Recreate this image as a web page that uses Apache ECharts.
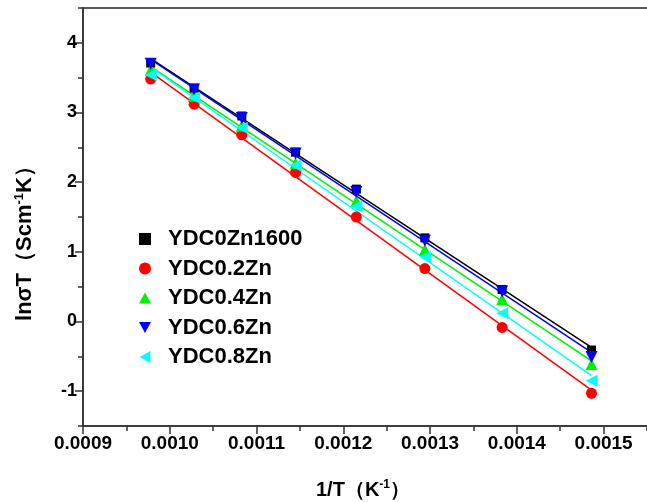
<!DOCTYPE html>
<html>
<head>
<meta charset="utf-8">
<script src="https://cdn.jsdelivr.net/npm/echarts@6/dist/echarts.min.js"></script>
<style>html,body{margin:0;padding:0;background:#fff}#c{width:647px;height:502px}</style>
</head>
<body>
<div id="c"></div>
<script>
// ---- data ----
const xValues = [0.000978, 0.001028, 0.001083, 0.001145, 0.001215, 0.001294, 0.001383, 0.001486];
const seriesNames = ['YDC0Zn1600', 'YDC0.2Zn', 'YDC0.4Zn', 'YDC0.6Zn', 'YDC0.8Zn'];
const ydc0Zn1600 = [3.71, 3.35, 2.95, 2.43, 1.90, 1.20, 0.46, -0.41];
const ydc02Zn    = [3.48, 3.12, 2.68, 2.14, 1.50, 0.76, -0.085, -1.03];
const ydc04Zn    = [3.61, 3.24, 2.81, 2.27, 1.73, 1.03, 0.32, -0.61];
const ydc06Zn    = [3.70, 3.33, 2.92, 2.41, 1.86, 1.16, 0.43, -0.51];
const ydc08Zn    = [3.54, 3.21, 2.78, 2.24, 1.65, 0.93, 0.12, -0.85];
const yTickLabels = [-1, 0, 1, 2, 3, 4];
const yMinorTicks = [-1.5, -0.5, 0.5, 1.5, 2.5, 3.5, 4.5];

// ---- styling ----
const FONT = '"Liberation Sans", Arial, sans-serif';
const colors = ['#000000', '#ff0000', '#00f000', '#0000ff', '#00ffff'];
const symbols = ['rect', 'circle', 'triangle', 'triangle', 'triangle'];
const rotations = [0, 0, 0, 180, 90];
const sizes = [9, 11, 12, 12, 12];
const legendIcons = ['rect', 'circle', 'path://M5,0 L10,9 L0,9 Z', 'path://M0,0 L10,0 L5,9 Z', 'path://M9,0 L9,10 L0,5 Z'];
const allY = [ydc0Zn1600, ydc02Zn, ydc04Zn, ydc06Zn, ydc08Zn];

function fit(xs, ys) {
  const n = xs.length;
  let sx = 0, sy = 0, sxx = 0, sxy = 0;
  for (let i = 0; i < n; i++) { sx += xs[i]; sy += ys[i]; sxx += xs[i] * xs[i]; sxy += xs[i] * ys[i]; }
  const b = (n * sxy - sx * sy) / (n * sxx - sx * sx);
  const a = (sy - b * sx) / n;
  return [[xs[0], a + b * xs[0]], [xs[n - 1], a + b * xs[n - 1]]];
}

const series = [];
allY.forEach((ys, i) => {
  series.push({
    type: 'line', data: fit(xValues, ys), showSymbol: false, symbol: 'none',
    lineStyle: { color: colors[i], width: 1.5 }, z: 2, silent: true
  });
});
allY.forEach((ys, i) => {
  series.push({
    name: seriesNames[i], type: 'scatter',
    data: xValues.map((x, j) => [x, ys[j]]),
    symbol: symbols[i], symbolRotate: rotations[i], symbolSize: sizes[i],
    itemStyle: { color: colors[i], opacity: 1 }, z: 3
  });
});

const chart = echarts.init(document.getElementById('c'), null, { renderer: 'canvas' });
const gridLeft = 83, gridRight = -43.4;
const gridWidth = 647 - gridLeft - gridRight;
chart.setOption({
  animation: false,
  backgroundColor: '#fff',
  grid: { left: gridLeft, right: gridRight, top: 8, bottom: 76, outerBoundsMode: 'none', containLabel: false,
    show: true, borderColor: '#222', borderWidth: 1.5, backgroundColor: 'transparent' },
  xAxis: [{
    type: 'value', min: 0.0009, max: 0.0016, interval: 0.0001,
    axisLine: { show: true, onZero: false, lineStyle: { color: '#333', width: 1.5 } },
    axisTick: { show: true, length: 8, lineStyle: { color: '#333', width: 1.5 } },
    minorTick: { show: true, splitNumber: 2, length: 5, lineStyle: { color: '#333', width: 1.5 } },
    axisLabel: { fontFamily: FONT, fontSize: 19, fontWeight: 'bold', color: '#000', margin: 8,
      formatter: v => v.toFixed(4), showMaxLabel: false },
    splitLine: { show: false }, minorSplitLine: { show: false }
  }],
  yAxis: [{
    type: 'value', min: -1.5, max: 4.5, interval: 0.5,
    axisLine: { show: true, onZero: false, lineStyle: { color: '#333', width: 1.5 } },
    axisTick: { show: true, length: 8, customValues: yTickLabels, lineStyle: { color: '#333', width: 1.5 } },
    axisLabel: { fontFamily: FONT, fontSize: 18, fontWeight: 'bold', color: '#000', margin: 6,
      customValues: yTickLabels, formatter: v => String(v) },
    splitLine: { show: false }
  }, {
    type: 'value', min: -1.5, max: 4.5, interval: 0.5, position: 'right', offset: -gridWidth,
    axisLine: { show: false, onZero: false },
    axisTick: { show: true, inside: true, length: 5, customValues: yMinorTicks, lineStyle: { color: '#333', width: 1.5 } },
    axisLabel: { show: false },
    splitLine: { show: false }
  }],
  legend: {
    orient: 'vertical', left: 134, top: 223, itemWidth: 12, itemHeight: 12, itemGap: 7.5,
    symbolKeepAspect: true,
    data: seriesNames.map((n, i) => ({ name: n, icon: legendIcons[i] })),
    textStyle: { fontFamily: FONT, fontSize: 22, fontWeight: 'bold', color: '#000', lineHeight: 22, padding: [0, 0, 0, 12] }
  },
  graphic: [
    {
      type: 'text', x: 363, y: 490,
      style: {
        text: '{a|1/T（K}{s|-1}{a|）}', textAlign: 'center', textVerticalAlign: 'middle',
        rich: {
          a: { fontFamily: FONT, fontSize: 20, fontWeight: 'bold', fill: '#000', lineHeight: 22 },
          s: { fontFamily: FONT, fontSize: 12, fontWeight: 'bold', fill: '#000', verticalAlign: 'top', lineHeight: 22 }
        }
      }
    },
    {
      type: 'text', x: 25, y: 238, rotation: Math.PI / 2,
      style: {
        text: '{a|lnσT（Scm}{s|-1}{a|K）}', textAlign: 'center', textVerticalAlign: 'middle',
        rich: {
          a: { fontFamily: FONT, fontSize: 22, fontWeight: 'bold', fill: '#000', lineHeight: 24 },
          s: { fontFamily: FONT, fontSize: 13, fontWeight: 'bold', fill: '#000', verticalAlign: 'top', lineHeight: 24 }
        }
      }
    }
  ],
  series: series
});
</script>
</body>
</html>
